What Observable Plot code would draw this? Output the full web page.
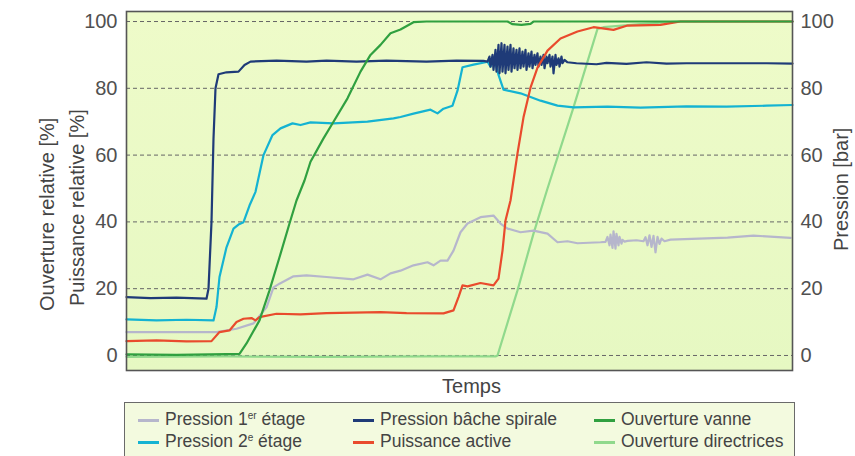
<!DOCTYPE html>
<html><head><meta charset="utf-8">
<script src="https://cdn.jsdelivr.net/npm/d3@7"></script>
<script src="https://cdn.jsdelivr.net/npm/@observablehq/plot@0.6"></script>
<style>
body{margin:0;background:#fff;font-family:"Liberation Sans",Arial,sans-serif;}
#wrap{position:relative;width:855px;height:456px;overflow:hidden;}
#legend{position:absolute;left:124px;top:402px;width:671px;height:70px;border:1.5px solid #6a6a6a;background:#f3fadf;box-sizing:border-box;}
.item{position:absolute;display:flex;align-items:center;font-size:17.5px;color:#444;white-space:nowrap;line-height:1;}
.sw{display:inline-block;width:21px;height:3px;margin-right:6px;}
sup{font-size:10px;vertical-align:6px;line-height:0;}
</style></head>
<body><div id="wrap"></div>
<script>
// Time in arbitrary units (no ticks on the x axis)
const p1T = [0,90,110,127,140,147,153,167,180,200,227,241,254,264,274,287,301,307,314,321,327,334,341,354,367,374,381,394,407,421,431,441,451,474,479,481,483,484,486,487,489,490,492,493,495,496,498,501,510,517,519,521,523,525,527,529,531,533,535,538,544,601,627,664];
const p1V = [7,7,8,9.6,14.4,20.4,21.5,23.7,24,23.5,22.8,24.2,22.8,24.6,25.4,27,27.9,27,28.4,28.4,31.4,36.9,39.5,41.4,41.9,39.5,38,36.9,37.4,36.5,33.9,34.2,33.6,33.9,34,35.5,33,36.2,32.2,37.2,32,36.4,33,35.5,33.5,34.6,34.1,34.3,34.5,34.2,35.4,33,36,32.5,35.8,30.9,35.5,33.4,35,34.2,34.7,35.3,35.9,35.2];

const spT = [0,24,50,80,82,85,87,89,92,100,112,118,124,150,180,200,230,260,300,330,357,361,363,364,366,367,369,370,372,373,375,376,378,379,381,382,384,385,387,388,390,391,393,394,396,397,399,400,402,403,405,406,408,409,411,412,414,415,417,418,420,421,423,424,426,427,429,430,432,433,435,436,438,441,450,470,480,500,520,540,560,600,640,666];
const spV = [17.5,17.2,17.3,17,20,40,65,80,84.2,84.8,85,87,88,88.3,88,88.3,88,88.3,88,88.3,88.2,88,89.5,86.5,90,85.5,91.5,85,93,84.5,93.5,85,93,84.5,92.5,85.5,93,85,92,86,91.5,85.5,92,86,91,86.5,91.5,85.5,90.5,86.5,91,86,90,87,90.5,86.5,89.5,87,90,86,89.5,87.5,90,86.5,89.5,84.5,90,87,89,86.5,89.5,87.5,88.5,87.8,87.5,87.2,87.6,87.3,87.8,87.4,87.5,87.5,87.5,87.4];

const p2T = [0,30,60,87,90,93,100,107,112,117,123,129,137,146,154,166,174,184,207,241,267,274,287,304,311,317,326,331,336,347,359,361,364,366,369,372,377,394,414,431,447,481,514,560,600,640,666];
const p2V = [10.8,10.5,10.7,10.5,14.5,23.5,32.4,38,39.2,39.9,44.9,49,60,66,68,69.5,69,69.8,69.5,70,71,71.4,72.4,73.6,72.5,73.9,74.8,79.3,86.3,87.1,87.8,88,86.5,88.3,87.5,84,79.6,78.5,76.3,74.8,74.3,74.5,74.2,74.6,74.5,74.8,75];

const paT = [0,30,60,85,93,103,110,117,125,129,133,150,174,200,254,280,317,327,332,336,341,354,367,372,376,379,384,391,397,404,411,421,434,451,467,487,501,534,544,554,666];
const paV = [4.3,4.5,4.2,4.3,7,7.5,10,11,11.2,10.5,11.5,12.5,12.3,12.7,13,12.7,12.6,13.5,17.5,21,20.7,21.7,21,23,31.4,40.4,46.4,60.5,71.3,80.2,86.2,91.3,94.9,97,98.3,97.5,98.8,99,99.5,100,100];

const ovT = [0,50,100,113,120,133,143,153,163,170,178,184,197,207,221,234,244,254,264,274,287,300,381,386,395,404,407,666];
const ovV = [0.3,0.2,0.4,0.5,3.6,10.5,19.5,29.4,39.5,46.4,52.4,58,65,70,77,85,90,93,96.5,97.6,99.8,100,100,99.2,99,99.3,100,100];

const odT = [0,100,200,300,369,371,391,407,421,447,471,477,514,551,666];
const odV = [-0.4,-0.3,-0.4,-0.3,-0.3,0,19.5,36.5,50,74.3,97.8,98.3,99.2,100,100];

const yTicks = [0,20,40,60,80,100];
const seriesNames = ["Pression 1er étage","Pression 2e étage","Pression bâche spirale","Puissance active","Ouverture vanne","Ouverture directrices"];
const seriesColors = ["#b6b6cc","#14b3d2","#1f3b78","#e94b2d","#30a040","#90d98c"];

const mk = (T,V) => T.map((t,i)=>({t, v:V[i]}));
const data = {
  p1: mk(p1T,p1V), p2: mk(p2T,p2V), sp: mk(spT,spV),
  pa: mk(paT,paV), ov: mk(ovT,ovV), od: mk(odT,odV)
};
const col = Object.fromEntries(seriesNames.map((n,i)=>[n,seriesColors[i]]));

const lineOpt = (c) => ({x:"t", y:"v", stroke:c, strokeWidth:2.2, curve:"linear", strokeLinejoin:"round"});

const plot = Plot.plot({
  width: 855, height: 400,
  marginLeft: 126, marginRight: 63, marginTop: 11, marginBottom: 30,
  style: {fontFamily: '"Liberation Sans", Arial, sans-serif', background: "transparent"},
  x: {domain: [0, 666], axis: null},
  y: {domain: [-4.5, 103], axis: null},
  marks: [
    Plot.frame({fill: "url(#bgGrad)", stroke: "none"}),
    Plot.gridY(yTicks, {stroke: "#666", strokeOpacity: 1, strokeWidth: 1, strokeDasharray: "4,3"}),
    Plot.axisY(yTicks, {anchor: "left", tickSize: 0, tickPadding: 9, fontSize: 20, color: "#505050", label: null}),
    Plot.axisY(yTicks, {anchor: "right", tickSize: 0, tickPadding: 8, fontSize: 20, color: "#505050", label: null}),
    Plot.line(data.od, lineOpt(col["Ouverture directrices"])),
    Plot.line(data.p1, lineOpt(col["Pression 1er étage"])),
    Plot.line(data.p2, lineOpt(col["Pression 2e étage"])),
    Plot.line(data.sp, lineOpt(col["Pression bâche spirale"])),
    Plot.line(data.pa, lineOpt(col["Puissance active"])),
    Plot.line(data.ov, lineOpt(col["Ouverture vanne"])),
    Plot.frame({stroke: "#555", strokeWidth: 1.6}),
    Plot.text(["Temps"], {frameAnchor: "bottom", lineAnchor: "top", dy: 8, dx: 12, fontSize: 20, fill: "#444"}),
    Plot.text(["Ouverture relative [%]"], {frameAnchor: "left", rotate: -90, textAnchor: "start", lineAnchor: "middle", dx: -79, dy: 120, fontSize: 20, fill: "#444"}),
    Plot.text(["Puissance relative [%]"], {frameAnchor: "left", rotate: -90, textAnchor: "start", lineAnchor: "middle", dx: -49, dy: 115, fontSize: 20, fill: "#444"}),
    Plot.text(["Pression [bar]"], {frameAnchor: "right", rotate: -90, textAnchor: "start", lineAnchor: "middle", dx: 49, dy: 60, fontSize: 20, fill: "#444"})
  ]
});

// background gradient
const ns = "http://www.w3.org/2000/svg";
const defs = document.createElementNS(ns, "defs");
defs.innerHTML = '<linearGradient id="bgGrad" x1="0" y1="0" x2="0" y2="1"><stop offset="0" stop-color="#eefbc9"/><stop offset="1" stop-color="#e6f8c2"/></linearGradient>';
plot.insertBefore(defs, plot.firstChild);

const wrap = document.getElementById("wrap");
wrap.appendChild(plot);

// legend
const legend = document.createElement("div");
legend.id = "legend";
const colX = [13, 228, 469];
const rowY = [17, 39];
const order = [[0,0,0],[1,0,1],[2,1,0],[3,1,1],[4,2,0],[5,2,1]];
for (const [si, c, r] of order) {
  const it = document.createElement("div");
  it.className = "item";
  it.style.left = colX[c] + "px";
  it.style.top = (rowY[r] - 10) + "px";
  it.style.height = "20px";
  const sw = document.createElement("span");
  sw.className = "sw"; sw.style.background = seriesColors[si];
  const tx = document.createElement("span");
  const name = seriesNames[si];
  tx.innerHTML = name.replace(/ 1er /, " 1<sup>er</sup> ").replace(/ 2e /, " 2<sup>e</sup> ");
  it.appendChild(sw); it.appendChild(tx);
  legend.appendChild(it);
}
wrap.appendChild(legend);
</script>
</body></html>
